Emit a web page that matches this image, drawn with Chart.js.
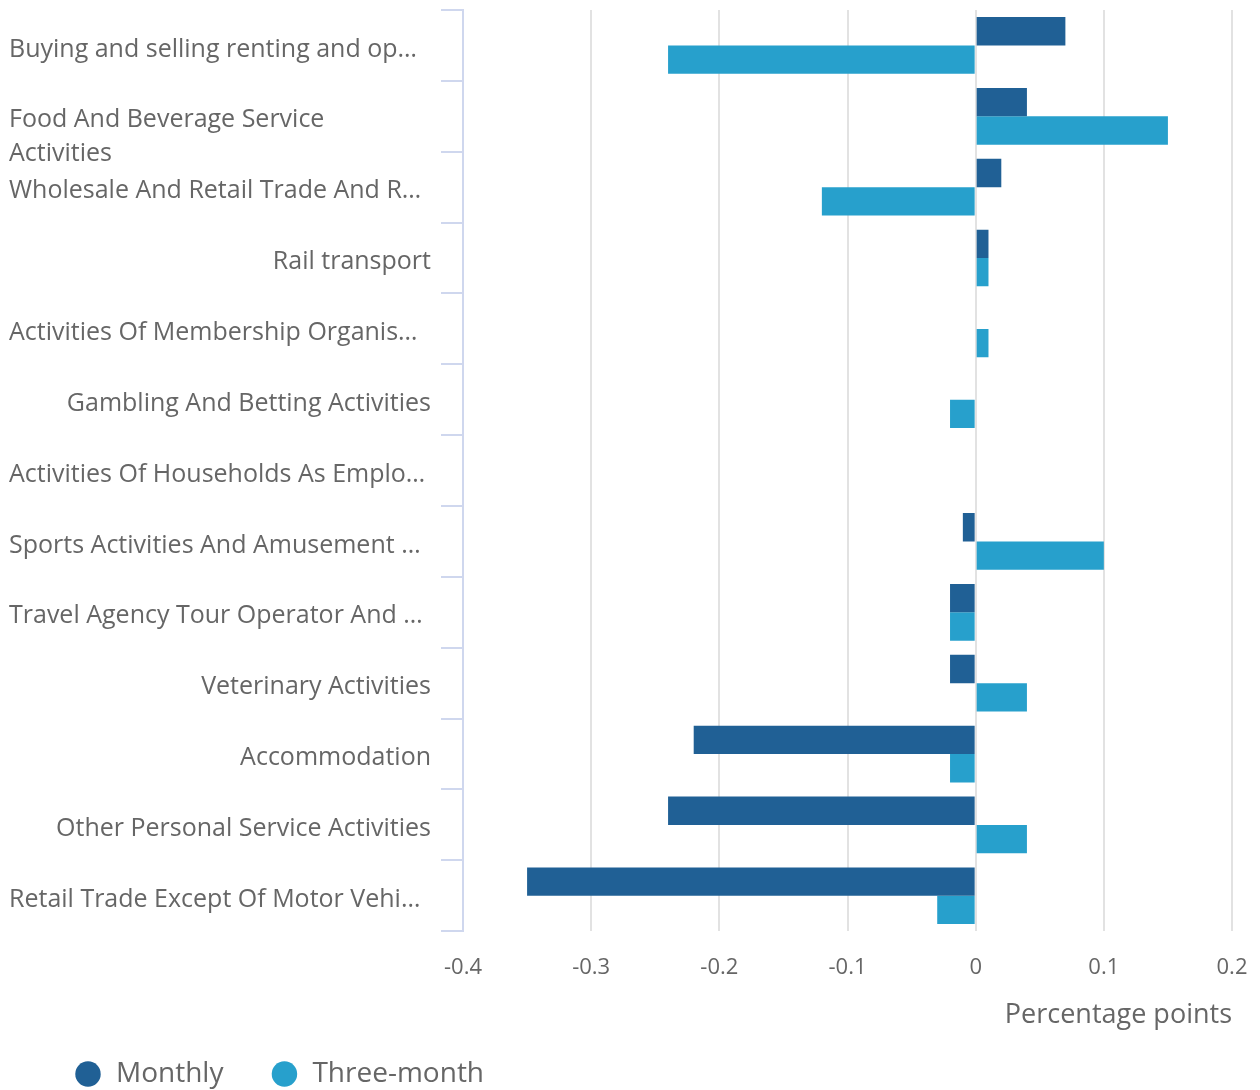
<!DOCTYPE html>
<html>
<head>
<meta charset="utf-8">
<script src="https://cdn.jsdelivr.net/npm/chart.js@4/dist/chart.umd.min.js"></script>
<style>
  html, body { margin: 0; padding: 0; background: #fff; }
  #wrap { width: 1260px; height: 1090px; }
</style>
</head>
<body>
<div id="wrap"><canvas id="chart"></canvas></div>
<script>
// categories as shown on the axis (long ones are cut like in the original)
const categories = [
  "Buying and selling renting and op…",
  ["Food And Beverage Service", "Activities"],
  "Wholesale And Retail Trade And R…",
  "Rail transport",
  "Activities Of Membership Organis…",
  "Gambling And Betting Activities",
  "Activities Of Households As Emplo…",
  "Sports Activities And Amusement …",
  "Travel Agency Tour Operator And …",
  "Veterinary Activities",
  "Accommodation",
  "Other Personal Service Activities",
  "Retail Trade Except Of Motor Vehi…"
];

const monthly     = [0.07, 0.04, 0.02, 0.01, 0, 0, 0, -0.01, -0.02, -0.02, -0.22, -0.24, -0.35];
const threeMonth  = [-0.24, 0.15, -0.12, 0.01, 0.01, -0.02, 0, 0.1, -0.02, 0.04, -0.02, 0.04, -0.03];

const xTicks = [-0.4, -0.3, -0.2, -0.1, 0, 0.1, 0.2];
const seriesNames = ["Monthly", "Three-month"];

const textColor = "#666666";
Chart.defaults.font.family = '"Open Sans", sans-serif';
Chart.defaults.color = textColor;

// y labels: short ones right aligned, cut/wrapped ones left aligned
const yLabels = {
  id: "yLabels",
  afterDraw(chart) {
    const ctx = chart.ctx;
    const yScale = chart.scales.y;
    ctx.save();
    ctx.font = '25px "Open Sans", sans-serif';
    ctx.fillStyle = textColor;
    ctx.textBaseline = "middle";
    categories.forEach((lab, i) => {
      const lines = Array.isArray(lab) ? lab : [lab];
      const cy = yScale.getPixelForTick(i) + 4;
      const leftAlign = lines.length > 1 || lines[0].endsWith("…");
      ctx.textAlign = leftAlign ? "left" : "right";
      lines.forEach((t, k) => ctx.fillText(t, leftAlign ? 9 : 431, cy + k * 34));
    });
    ctx.restore();
  }
};

// legend sits lower/right than chart.js would put it
const legendPlace = {
  id: "legendPlace",
  beforeLayout(chart) {
    const lg = chart.legend;
    if (lg && !lg._fitWrapped) {
      const fit = lg.fit;
      lg.fit = function () { fit.call(this); this.height = 58; };
      lg._fitWrapped = true;
    }
  },
  afterLayout(chart) {
    const lg = chart.legend;
    lg.left = 27;
    lg.right = 1260;
    lg.top = 1013;
    lg.bottom = 1090;
  }
};

new Chart(document.getElementById("chart"), {
  type: "bar",
  data: {
    labels: categories,
    datasets: [
      { label: seriesNames[0], data: monthly, backgroundColor: "#206095" },
      { label: seriesNames[1], data: threeMonth, backgroundColor: "#27a0cc" }
    ]
  },
  options: {
    indexAxis: "y",
    responsive: true,
    maintainAspectRatio: false,
    animation: false,
    categoryPercentage: 0.8,
    barPercentage: 1.0,
    layout: { padding: { top: 10, right: 28, left: 0, bottom: 0 } },
    plugins: {
      tooltip: { enabled: false },
      legend: {
        position: "bottom",
        align: "start",
        labels: {
          usePointStyle: true,
          pointStyle: "circle",
          boxWidth: 30,
          boxHeight: 18,
          padding: 47,
          color: textColor,
          font: { size: 28 }
        }
      }
    },
    scales: {
      x: {
        min: -0.4,
        max: 0.2,
        afterBuildTicks: scale => { scale.ticks = xTicks.map(v => ({ value: v })); },
        afterFit: scale => { scale.paddingLeft = 0; scale.paddingRight = 0; },
        ticks: {
          padding: 23,
          font: { size: 22 },
          color: textColor,
          callback: v => String(v)
        },
        grid: { color: "#e2e2e2", lineWidth: 2, drawTicks: false },
        border: { display: false },
        title: {
          display: true,
          text: "Percentage points",
          align: "end",
          color: textColor,
          font: { size: 27 },
          padding: { top: -4, bottom: 0 }
        }
      },
      y: {
        afterFit: scale => { scale.width = 463; },
        ticks: { display: false },
        grid: {
          offset: true,
          drawOnChartArea: false,
          drawTicks: true,
          tickLength: 22,
          color: "#cfd7ee",
          lineWidth: 2
        },
        border: { display: true, color: "#cfd7ee", width: 2 }
      }
    }
  },
  plugins: [yLabels, legendPlace]
});
</script>
</body>
</html>
